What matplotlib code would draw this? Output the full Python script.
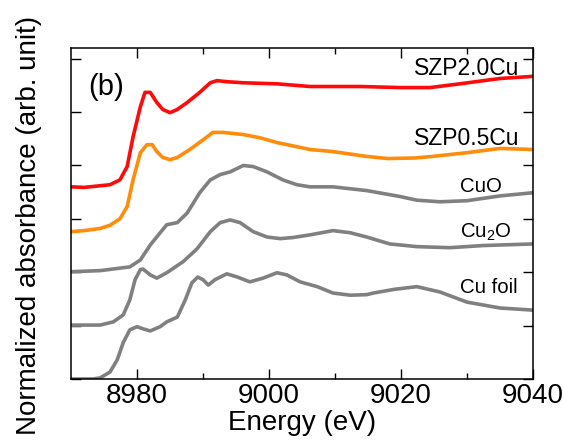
import numpy as np
import matplotlib
matplotlib.use("Agg")
import matplotlib.pyplot as plt

# energies (eV) and normalized absorbance (offset stacked)
e_szp20 = [8970, 8972.0, 8974.4, 8975.9, 8977.4, 8978.5, 8979.4, 8980.5, 8981.2, 8982.0,
           8983.0, 8983.9, 8985.0, 8986.1, 8987.6, 8989.5, 8991.1, 8992.1, 8993.6, 8996.1,
           9001.2, 9006.2, 9013.8, 9019.8, 9024.4, 9028.9, 9035.0, 9040]
a_szp20 = [3.60, 3.59, 3.62, 3.64, 3.73, 3.98, 4.54, 5.10, 5.37, 5.37,
           5.18, 5.05, 4.99, 5.05, 5.18, 5.37, 5.55, 5.59, 5.57, 5.55,
           5.53, 5.48, 5.48, 5.46, 5.46, 5.53, 5.63, 5.67]

e_szp05 = [8970, 8972.0, 8974.4, 8975.9, 8977.4, 8978.5, 8979.4, 8980.5, 8981.5, 8982.3,
           8983.0, 8983.9, 8985.0, 8986.1, 8988.0, 8990.0, 8991.5, 8993.0, 8996.1, 8998.6,
           9001.2, 9006.2, 9009.7, 9014.8, 9018.0, 9022.0, 9024.8, 9030.0, 9035.0, 9040]
a_szp05 = [2.76, 2.78, 2.82, 2.88, 3.00, 3.23, 3.73, 4.24, 4.39, 4.39,
           4.26, 4.15, 4.11, 4.15, 4.30, 4.48, 4.62, 4.62, 4.58, 4.52,
           4.43, 4.30, 4.26, 4.17, 4.13, 4.14, 4.17, 4.24, 4.32, 4.30]

e_cuo = [8970, 8974.4, 8978.9, 8980.5, 8982.0, 8983.5, 8984.5, 8986.1, 8987.6, 8989.5,
         8991.1, 8992.6, 8994.1, 8996.1, 8997.6, 8999.7, 9002.1, 9004.2, 9006.2, 9009.7,
         9014.8, 9019.8, 9022.4, 9025.9, 9030.0, 9035.0, 9040]
a_cuo = [2.01, 2.03, 2.10, 2.23, 2.51, 2.74, 2.89, 2.93, 3.11, 3.49,
         3.73, 3.83, 3.88, 4.00, 3.98, 3.88, 3.73, 3.64, 3.60, 3.60,
         3.53, 3.42, 3.35, 3.32, 3.34, 3.43, 3.49]

e_cu2o = [8970, 8974.4, 8976.4, 8977.9, 8978.9, 8979.7, 8980.5, 8980.9, 8982.0, 8983.0,
          8984.5, 8987.0, 8989.1, 8991.1, 8992.6, 8994.1, 8995.6, 8997.6, 8999.7, 9001.7,
          9003.6, 9006.2, 9009.7, 9012.3, 9014.8, 9018.3, 9022.4, 9027.4, 9032.4, 9040]
a_cu2o = [1.01, 1.01, 1.07, 1.20, 1.48, 1.86, 2.05, 2.06, 1.95, 1.89,
          1.99, 2.20, 2.44, 2.76, 2.93, 2.98, 2.93, 2.76, 2.66, 2.63,
          2.65, 2.70, 2.78, 2.74, 2.66, 2.53, 2.48, 2.46, 2.50, 2.53]

e_cufoil = [8970, 8973.3, 8974.4, 8975.9, 8977.0, 8977.9, 8978.9, 8980.0, 8980.9, 8982.0,
            8983.5, 8984.5, 8986.1, 8987.3, 8988.3, 8989.2, 8990.0, 8990.8, 8991.8, 8993.6,
            8995.2, 8997.1, 8999.1, 9001.2, 9002.7, 9004.7, 9007.3, 9009.7, 9012.3, 9014.8,
            9015.8, 9019.0, 9022.4, 9025.9, 9030.0, 9035.0, 9040]
a_cufoil = [0.00, 0.00, 0.02, 0.13, 0.36, 0.68, 0.92, 0.98, 0.94, 0.90,
            0.98, 1.07, 1.16, 1.48, 1.80, 1.91, 1.86, 1.76, 1.86, 1.97,
            1.91, 1.82, 1.89, 1.99, 1.95, 1.82, 1.73, 1.61, 1.57, 1.58,
            1.61, 1.68, 1.73, 1.63, 1.44, 1.33, 1.29]

RED = "#ff0a0a"
ORANGE = "#ff8c0a"
GRAY = "#808080"

plt.rcParams.update({
    "font.family": ["Liberation Sans", "DejaVu Sans"],
    "mathtext.fontset": "custom",
    "mathtext.rm": "Liberation Sans",
    "mathtext.it": "Liberation Sans:italic",
})

fig = plt.figure(figsize=(5.64, 4.43), dpi=100)
ax = fig.add_axes([0.126, 0.1445, 0.819, 0.747])

lw = 2.6
ax.plot(e_cufoil, a_cufoil, color=GRAY, lw=lw, solid_joinstyle="round")
ax.plot(e_cu2o, a_cu2o, color=GRAY, lw=lw, solid_joinstyle="round")
ax.plot(e_cuo, a_cuo, color=GRAY, lw=lw, solid_joinstyle="round")
ax.plot(e_szp05, a_szp05, color=ORANGE, lw=lw, solid_joinstyle="round")
ax.plot(e_szp20, a_szp20, color=RED, lw=lw, solid_joinstyle="round")

ax.text(9038.0, 5.69, "SZP2.0Cu", ha="right", va="baseline", fontsize=16.5)
ax.text(9038.0, 4.39, "SZP0.5Cu", ha="right", va="baseline", fontsize=16.5)
ax.text(9028.9, 3.51, "CuO", ha="left", va="baseline", fontsize=14.7)
ax.text(9028.9, 2.65, "Cu$_2$O", ha="left", va="baseline", fontsize=14.7)
ax.text(9028.9, 1.61, "Cu foil", ha="left", va="baseline", fontsize=14.7)
ax.text(8972.6, 5.33, "(b)", ha="left", va="baseline", fontsize=21)

ax.set_xlim(8970, 9040)
ax.set_ylim(0, 6.2)
ax.set_xticks([8980, 9000, 9020, 9040])
ax.set_xticks([8990, 9010, 9030], minor=True)
ax.set_yticks(np.arange(0, 7))
ax.set_yticklabels([])
ax.tick_params(which="both", direction="in", top=True, right=True, width=1.0, color="black")
ax.tick_params(which="major", length=7, labelsize=20, pad=3)
ax.tick_params(which="minor", length=4)
for sp in ax.spines.values():
    sp.set_linewidth(1.1)

ax.set_xlabel("Energy (eV)", fontsize=20)
ax.set_ylabel("Normalized absorbance (arb. unit)", fontsize=20)
ax.xaxis.set_label_coords(0.5, -0.093)
ax.yaxis.set_label_coords(-0.062, 0.465)

fig.savefig("out.png", dpi=100)
